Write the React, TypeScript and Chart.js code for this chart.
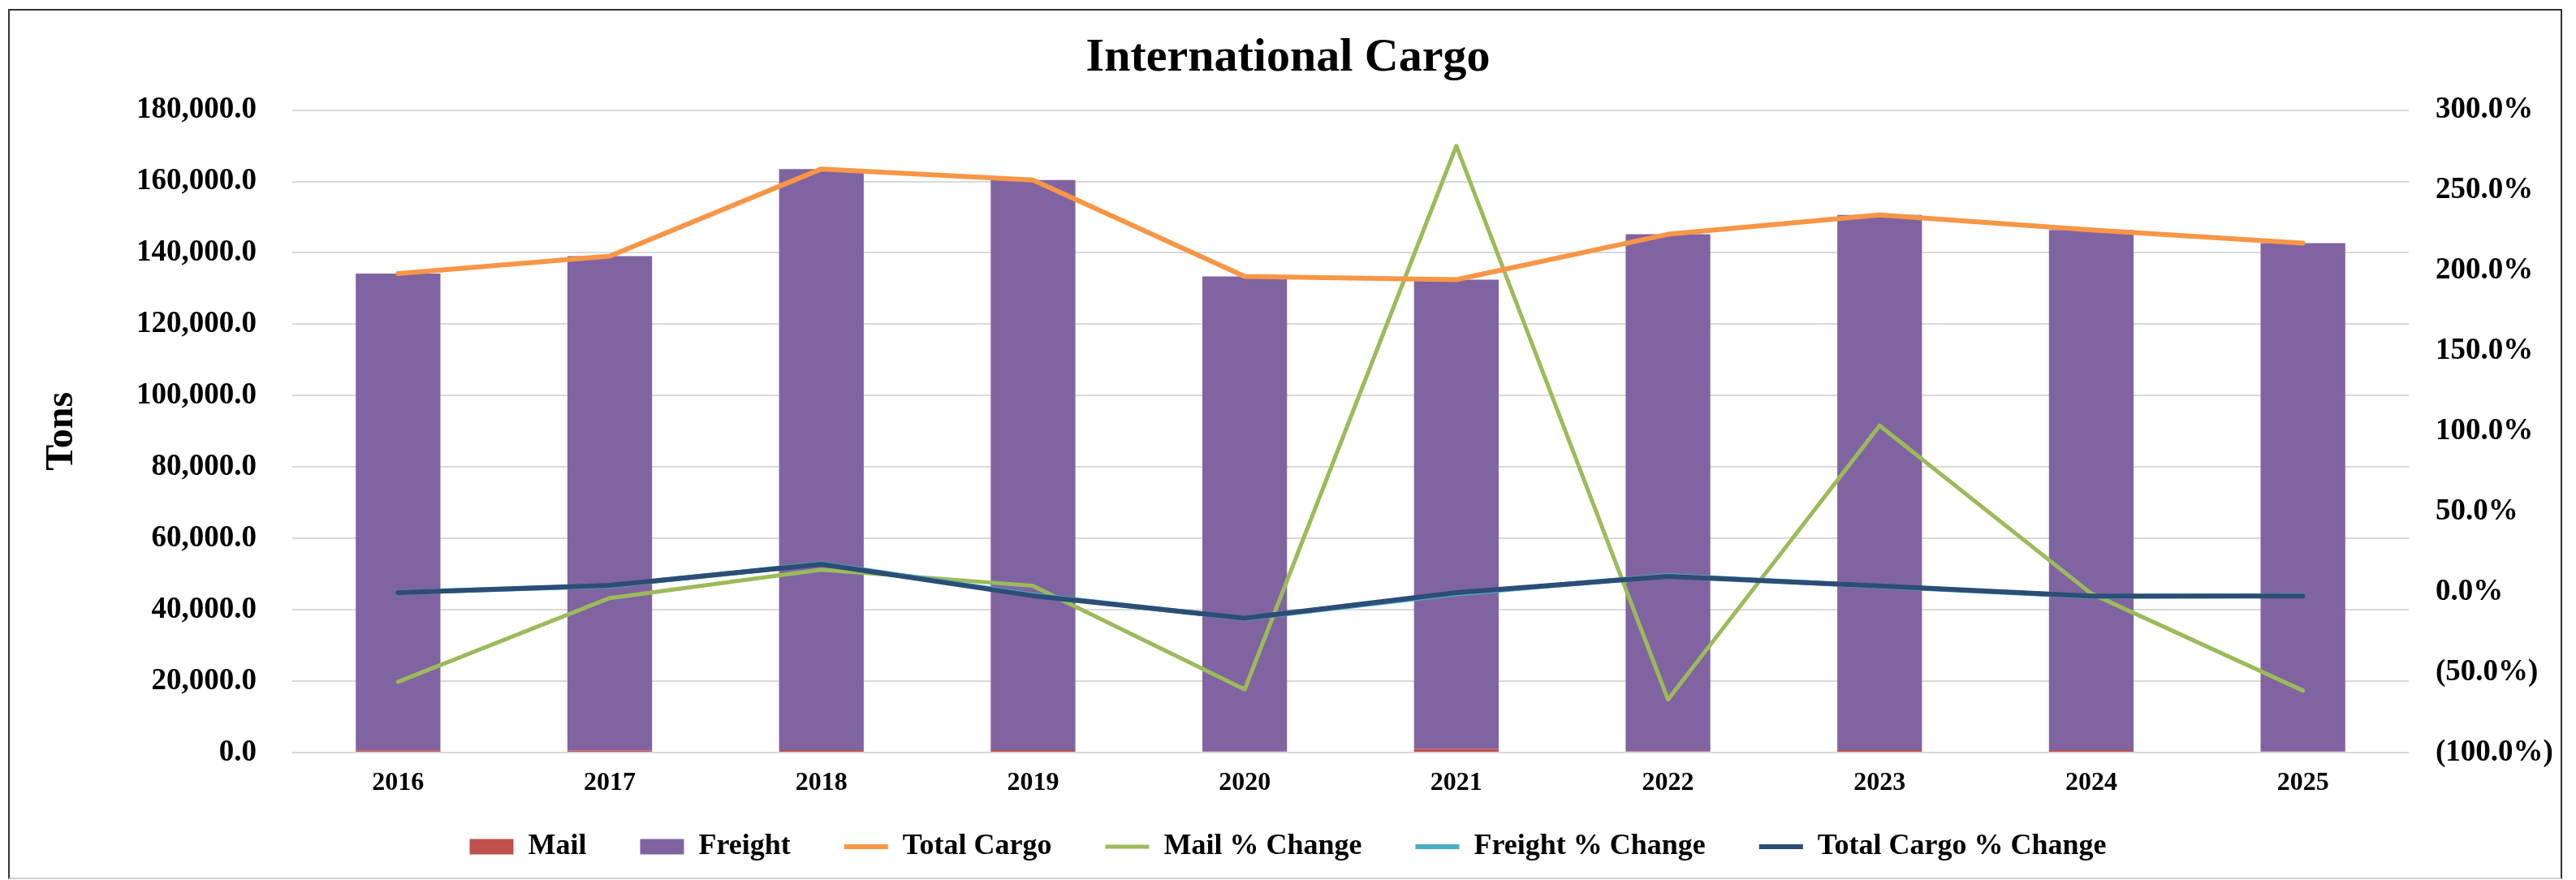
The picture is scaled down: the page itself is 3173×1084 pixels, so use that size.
import React, { useEffect, useRef } from "react";
import { Chart, registerables } from "chart.js";

Chart.register(...registerables);

const years = ["2016", "2017", "2018", "2019", "2020", "2021", "2022", "2023", "2024", "2025"];
const mail = [600, 580, 660, 690, 270, 1020, 335, 685, 680, 265];
const freight = [133600, 138520, 162840, 159710, 133130, 131480, 144865, 149915, 145720, 142435];
const totalCargo = [134200, 139100, 163500, 160400, 133400, 132500, 145200, 150600, 146400, 142700];
const mailPctChange = [-56, -3.8, 13.9, 3.8, -60.7, 277.7, -67, 103.6, -1, -61.4];
const freightPctChange = [-0.3, 3.7, 17.6, -1.9, -16.6, -1.2, 10.2, 3.5, -2.8, -2.3];
const totalPctChange = [-0.4, 4.1, 17.3, -2.4, -16.4, -0.4, 9.7, 3.8, -2.6, -2.6];

const leftTicks = { min: 0, max: 180000, step: 20000 };
const rightTicks = { min: -100, max: 300, step: 50 };

const W = 3173;
const H = 1084;
const FONT = "'Liberation Serif', 'Times New Roman', serif";

export default function App() {
  const ref = useRef<HTMLCanvasElement | null>(null);

  useEffect(() => {
    if (!ref.current) return;
    const lineCommon = {
      type: "line" as const,
      pointRadius: 0,
      pointHoverRadius: 0,
      pointStyle: "line" as const,
      tension: 0,
      borderCapStyle: "round" as const,
      borderJoinStyle: "round" as const,
      fill: false,
    };
    const chart = new Chart(ref.current, {
      type: "bar",
      data: {
        labels: years,
        datasets: [
          {
            type: "bar",
            label: "Mail",
            data: mail,
            backgroundColor: "#C0504D",
            borderWidth: 0,
            stack: "bars",
            yAxisID: "y",
            order: 10,
            pointStyle: "rect",
          } as any,
          {
            type: "bar",
            label: "Freight",
            data: freight,
            backgroundColor: "#8064A2",
            borderWidth: 0,
            stack: "bars",
            yAxisID: "y",
            order: 11,
            pointStyle: "rect",
          } as any,
          {
            ...lineCommon,
            label: "Total Cargo",
            data: totalCargo,
            borderColor: "#F79646",
            backgroundColor: "#F79646",
            borderWidth: 6,
            stack: "line",
            yAxisID: "y",
            order: 0,
          } as any,
          {
            ...lineCommon,
            label: "Mail % Change",
            data: mailPctChange,
            borderColor: "#9BBB59",
            backgroundColor: "#9BBB59",
            borderWidth: 5,
            yAxisID: "y2",
            order: 3,
          } as any,
          {
            ...lineCommon,
            label: "Freight % Change",
            data: freightPctChange,
            borderColor: "#4BACC6",
            backgroundColor: "#4BACC6",
            borderWidth: 6,
            yAxisID: "y2",
            order: 2,
          } as any,
          {
            ...lineCommon,
            label: "Total Cargo % Change",
            data: totalPctChange,
            borderColor: "#2C4D75",
            backgroundColor: "#2C4D75",
            borderWidth: 6,
            yAxisID: "y2",
            order: 1,
          } as any,
        ],
      },
      options: {
        responsive: false,
        animation: false,
        events: [],
        layout: { padding: { left: 0, right: 0, top: 0, bottom: 13 } },
        datasets: { bar: { barPercentage: 0.4, categoryPercentage: 1.0 } },
        plugins: {
          tooltip: { enabled: false },
          title: {
            display: true,
            text: "International Cargo",
            color: "#000",
            font: { family: FONT, size: 58, weight: "bold" },
            padding: { top: 37, bottom: 29 },
          },
          legend: {
            display: true,
            position: "bottom",
            labels: {
              usePointStyle: true,
              pointStyleWidth: 54,
              boxHeight: 19,
              padding: 66,
              color: "#000",
              font: { family: FONT, size: 36, weight: "bold" },
              sort: (a: any, b: any) => a.datasetIndex - b.datasetIndex,
            },
          },
        },
        scales: {
          x: {
            stacked: true,
            grid: { display: false, drawTicks: false },
            border: { display: false },
            ticks: {
              padding: 19,
              color: "#000",
              font: { family: FONT, size: 32, weight: "bold" },
            },
            afterFit: (s: any) => {
              s.height = 32;
              s._computeLabelArea = () => undefined;
            },
          },
          y: {
            position: "left",
            stacked: true,
            min: leftTicks.min,
            max: leftTicks.max,
            grid: { color: "#D9D9D9", lineWidth: 2, drawTicks: false },
            border: { display: false },
            title: {
              display: true,
              text: "Tons",
              color: "#000",
              font: { family: FONT, size: 48, weight: "bold" },
              padding: { top: 48, bottom: 0 },
            },
            ticks: {
              stepSize: leftTicks.step,
              padding: 44,
              color: "#000",
              font: { family: FONT, size: 37, weight: "bold" },
              callback: (v: any) =>
                Number(v).toLocaleString("en-US", { minimumFractionDigits: 1, maximumFractionDigits: 1 }),
            },
            afterFit: (s: any) => {
              s.width = 360;
            },
          },
          y2: {
            position: "right",
            stacked: false,
            min: rightTicks.min,
            max: rightTicks.max,
            grid: { drawOnChartArea: false, drawTicks: false },
            border: { display: false },
            ticks: {
              stepSize: rightTicks.step,
              padding: 33,
              color: "#000",
              font: { family: FONT, size: 37, weight: "bold" },
              callback: (v: any) => {
                const n = Number(v);
                return n < 0 ? `(${Math.abs(n).toFixed(1)}%)` : `${n.toFixed(1)}%`;
              },
            },
            afterFit: (s: any) => {
              s.width = 206;
            },
          },
        },
      } as any,
    });
    return () => chart.destroy();
  }, []);

  return (
    <div>
      <canvas
        ref={ref}
        width={W}
        height={H}
        style={{ position: "absolute", left: 0, top: 0, width: W, height: H, background: "#fff" }}
      />
      <div
        style={{
          position: "absolute",
          left: 10,
          top: 11,
          width: 3146,
          height: 1072,
          boxSizing: "border-box",
          borderTop: "2px solid #333",
          borderLeft: "2px solid #333",
          borderRight: "2px solid #333",
          borderBottom: "2px solid #D0D0D0",
          pointerEvents: "none",
        }}
      />
    </div>
  );
}
